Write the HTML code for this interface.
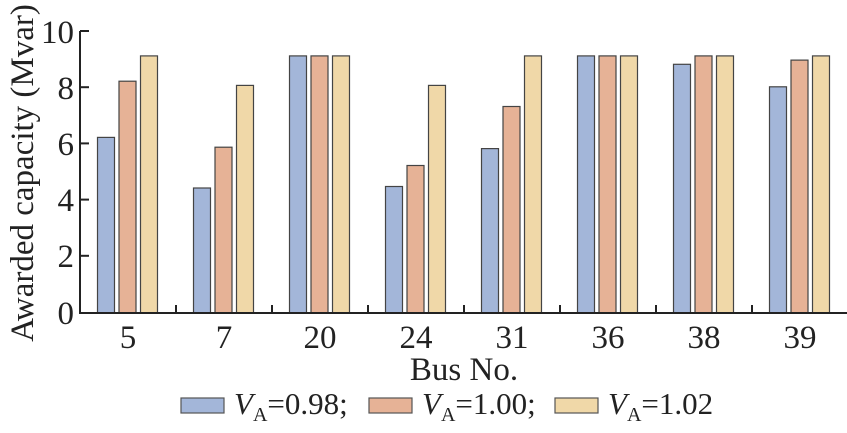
<!DOCTYPE html>
<html><head><style>body{margin:0;background:#fff}svg{display:block}</style></head><body>
<svg width="847" height="433" xmlns="http://www.w3.org/2000/svg" font-family="Liberation Serif, serif" fill="#222">
<g stroke="#444" stroke-width="1.2">
<rect x="97.5" y="137.4" width="17" height="175.6" fill="#a3b6d9"/>
<rect x="119" y="81.2" width="17" height="231.8" fill="#e6b296"/>
<rect x="140.5" y="55.9" width="17" height="257.1" fill="#f0d8a8"/>
<rect x="193.5" y="188" width="17" height="125" fill="#a3b6d9"/>
<rect x="215" y="147.2" width="17" height="165.8" fill="#e6b296"/>
<rect x="236.5" y="85.4" width="17" height="227.6" fill="#f0d8a8"/>
<rect x="289.5" y="55.9" width="17" height="257.1" fill="#a3b6d9"/>
<rect x="311" y="55.9" width="17" height="257.1" fill="#e6b296"/>
<rect x="332.5" y="55.9" width="17" height="257.1" fill="#f0d8a8"/>
<rect x="385.5" y="186.5" width="17" height="126.5" fill="#a3b6d9"/>
<rect x="407" y="165.5" width="17" height="147.5" fill="#e6b296"/>
<rect x="428.5" y="85.4" width="17" height="227.6" fill="#f0d8a8"/>
<rect x="481.5" y="148.6" width="17" height="164.4" fill="#a3b6d9"/>
<rect x="503" y="106.5" width="17" height="206.5" fill="#e6b296"/>
<rect x="524.5" y="55.9" width="17" height="257.1" fill="#f0d8a8"/>
<rect x="577.5" y="55.9" width="17" height="257.1" fill="#a3b6d9"/>
<rect x="599" y="55.9" width="17" height="257.1" fill="#e6b296"/>
<rect x="620.5" y="55.9" width="17" height="257.1" fill="#f0d8a8"/>
<rect x="673.5" y="64.3" width="17" height="248.7" fill="#a3b6d9"/>
<rect x="695" y="55.9" width="17" height="257.1" fill="#e6b296"/>
<rect x="716.5" y="55.9" width="17" height="257.1" fill="#f0d8a8"/>
<rect x="769.5" y="86.8" width="17" height="226.2" fill="#a3b6d9"/>
<rect x="791" y="60.1" width="17" height="252.9" fill="#e6b296"/>
<rect x="812.5" y="55.9" width="17" height="257.1" fill="#f0d8a8"/>
</g>
<g stroke="#222" stroke-width="2" fill="none">
<line x1="80" y1="31" x2="80" y2="313"/>
<line x1="79" y1="313" x2="847" y2="313"/>
<line x1="80" y1="31" x2="89" y2="31"/><line x1="80" y1="87.2" x2="89" y2="87.2"/>
<line x1="80" y1="143.4" x2="89" y2="143.4"/><line x1="80" y1="199.6" x2="89" y2="199.6"/>
<line x1="80" y1="255.8" x2="89" y2="255.8"/>
<line x1="176" y1="313" x2="176" y2="305"/><line x1="272" y1="313" x2="272" y2="305"/>
<line x1="368" y1="313" x2="368" y2="305"/><line x1="464" y1="313" x2="464" y2="305"/>
<line x1="560" y1="313" x2="560" y2="305"/><line x1="656" y1="313" x2="656" y2="305"/>
<line x1="752" y1="313" x2="752" y2="305"/>
</g>
<g font-size="33" text-anchor="end">
<text x="74" y="43">10</text><text x="74" y="99">8</text><text x="74" y="155">6</text>
<text x="74" y="211">4</text><text x="74" y="267">2</text><text x="74" y="324">0</text>
</g>
<g font-size="33" text-anchor="middle">
<text x="128" y="348">5</text><text x="224" y="348">7</text><text x="320" y="348">20</text>
<text x="416" y="348">24</text><text x="512" y="348">31</text><text x="608" y="348">36</text>
<text x="704" y="348">38</text><text x="800" y="348">39</text>
<text x="464" y="380">Bus No.</text>
<text transform="translate(33,173) rotate(-90)">Awarded capacity (Mvar)</text>
</g>
<g stroke="#555" stroke-width="1.2">
<rect x="181" y="398" width="43" height="15" fill="#a3b6d9"/>
<rect x="369" y="398" width="43" height="15" fill="#e6b296"/>
<rect x="555" y="398" width="43" height="15" fill="#f0d8a8"/>
</g>
<g font-size="31">
<text x="234" y="414"><tspan font-style="italic">V</tspan><tspan font-size="20" dy="7">A</tspan><tspan dy="-7">=0.98;</tspan></text>
<text x="422" y="414"><tspan font-style="italic">V</tspan><tspan font-size="20" dy="7">A</tspan><tspan dy="-7">=1.00;</tspan></text>
<text x="608" y="414"><tspan font-style="italic">V</tspan><tspan font-size="20" dy="7">A</tspan><tspan dy="-7">=1.02</tspan></text>
</g>
</svg>
</body></html>
